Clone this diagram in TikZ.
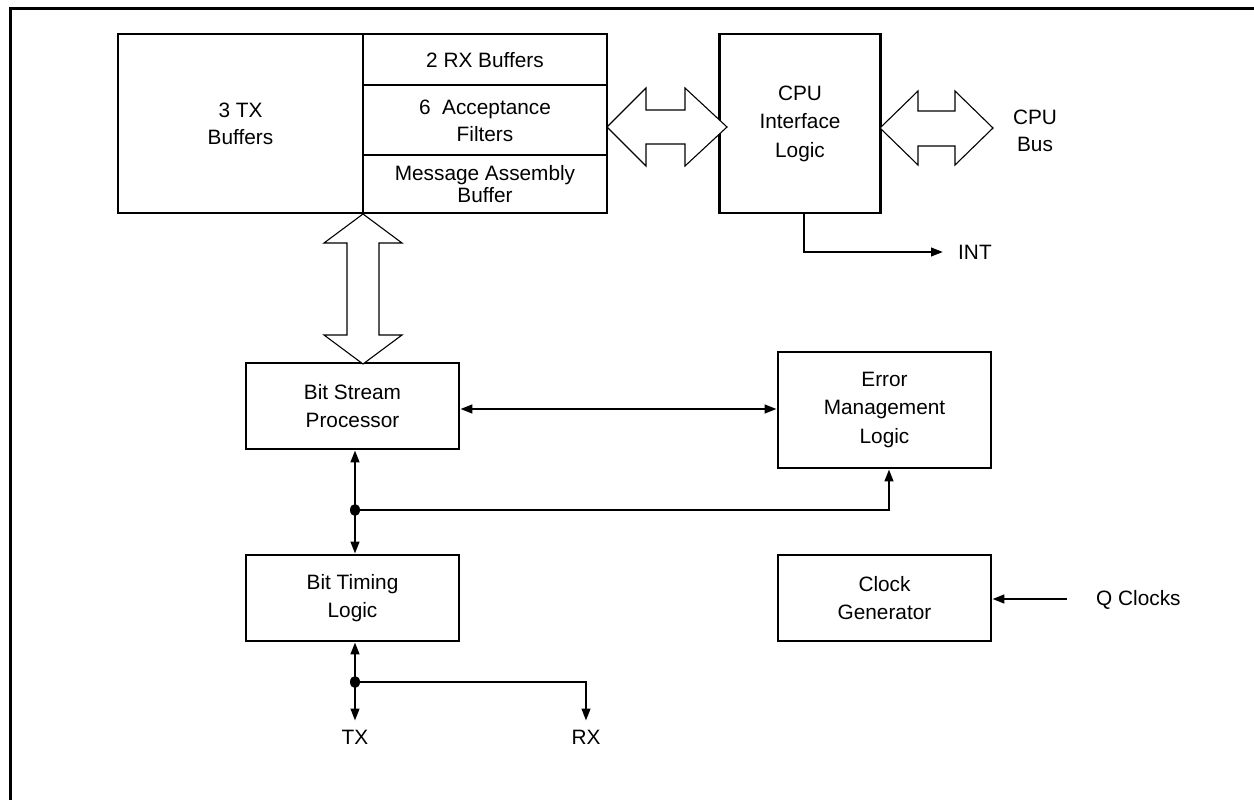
\documentclass[tikz,border=0pt]{standalone}
\usepackage{fontspec}
\setmainfont{Liberation Sans}
\usetikzlibrary{arrows.meta,calc}
\newcommand\figfont{\fontsize{20.8}{28.5}\selectfont}
\begin{document}
\begin{tikzpicture}[x=1pt,y=-1pt,
  box/.style={draw,line width=2.6pt,inner sep=0pt,align=center,font=\figfont},
  lbl/.style={inner sep=0pt,align=center,font=\figfont},
  hollow/.style={draw,line width=1.1pt,line join=miter,fill=white},
  arr/.style={line width=2.4pt,-{Triangle[length=12pt,width=8.5pt]}},
  dblarr/.style={line width=2.4pt,{Triangle[length=12pt,width=8.5pt]}-{Triangle[length=12pt,width=8.5pt]}},
  sep/.style={line width=1.3pt}]
\useasboundingbox (0,0) rectangle (1254,800);
% outer frame (top and left only)
\draw[line width=3pt] (10,800) -- (10,9) -- (1254,9);

% top buffers
\node[box,minimum width=245pt,minimum height=179pt] (tx) at (240.5,123.5) {3 TX\\[-1.5pt]Buffers};
\node[box,minimum width=244pt,minimum height=179pt] (rx) at (485,123.5) {};
\draw[sep] (rx.west |- 0,85) -- (rx.east |- 0,85);
\draw[sep] (rx.west |- 0,155) -- (rx.east |- 0,155);
\node[lbl] (rxb) at (485,60) {2 RX Buffers};
\node[lbl] (acc) at (485,121) {6\ \ Acceptance\\[-1.5pt]Filters};
\node[lbl] (mab) at (485,184) {Message Assembly\\[-6.5pt]Buffer};

% CPU interface
\node[box,minimum width=161pt,minimum height=179pt] (cpu) at (800,123.5) {CPU\\Interface\\Logic};
\node[lbl] (bus) at (1035,130.5) {CPU\\[-1.5pt]Bus};
\node[lbl,anchor=west] (int) at (958,252) {INT};

% middle / lower blocks
\node[box,minimum width=213pt,minimum height=86pt] (bsp) at (352.5,406) {Bit Stream\\Processor};
\node[box,minimum width=213pt,minimum height=116pt] (eml) at (884.5,410) {Error\\Management\\Logic};
\node[box,minimum width=213pt,minimum height=86pt] (btl) at (352.5,598) {Bit Timing\\Logic};
\node[box,minimum width=213pt,minimum height=86pt] (clk) at (884.5,598) {Clock\\Generator};
\node[lbl,anchor=west] (qcl) at (1096,600) {Q Clocks};
\node[lbl] (txl) at (355,737) {TX};
\node[lbl] (rxl) at (586,737) {RX};

% hollow bus arrows
\draw[hollow] (607,127) -- (646,88) -- (646,110) -- (685,110) -- (685,88) -- (727,127)
  -- (685,166) -- (685,144) -- (646,144) -- (646,166) -- cycle;
\draw[hollow] (880,128) -- (918,91) -- (918,111) -- (955,111) -- (955,91) -- (993,128)
  -- (955,165) -- (955,146) -- (918,146) -- (918,165) -- cycle;
\draw[hollow] (363,214) -- (402,243) -- (379,243) -- (379,335) -- (402,335) -- (363,364)
  -- (324,335) -- (347,335) -- (347,243) -- (324,243) -- cycle;

% INT
\draw[arr] (cpu.south -| 804,0) -- (804,252) -- ([xshift=-15pt]int.west);

% BSP <-> EML
\draw[dblarr] (bsp.east |- 0,409) -- (eml.west |- 0,409);

% bus between BSP, BTL, EML
\coordinate (j1) at (355,510);
\draw[arr] (j1) -- (bsp.south -| j1);
\draw[arr] (j1) -- (btl.north -| j1);
\draw[arr] (j1) -- (889,510) -- (eml.south -| 889,0);
\fill (j1) circle[x radius=5pt,y radius=6pt];

% TX / RX
\coordinate (j2) at (355,682);
\draw[arr] (j2) -- (btl.south -| j2);
\draw[arr] (j2) -- ([yshift=9pt]txl.north);
\draw[arr] (j2) -- (586,682) -- ([yshift=9pt]rxl.north);
\fill (j2) circle[x radius=5pt,y radius=6pt];

% Q clocks
\coordinate (qs) at (1067,599);
\draw[arr] (qs) -- (clk.east |- qs);
\end{tikzpicture}
\end{document}
